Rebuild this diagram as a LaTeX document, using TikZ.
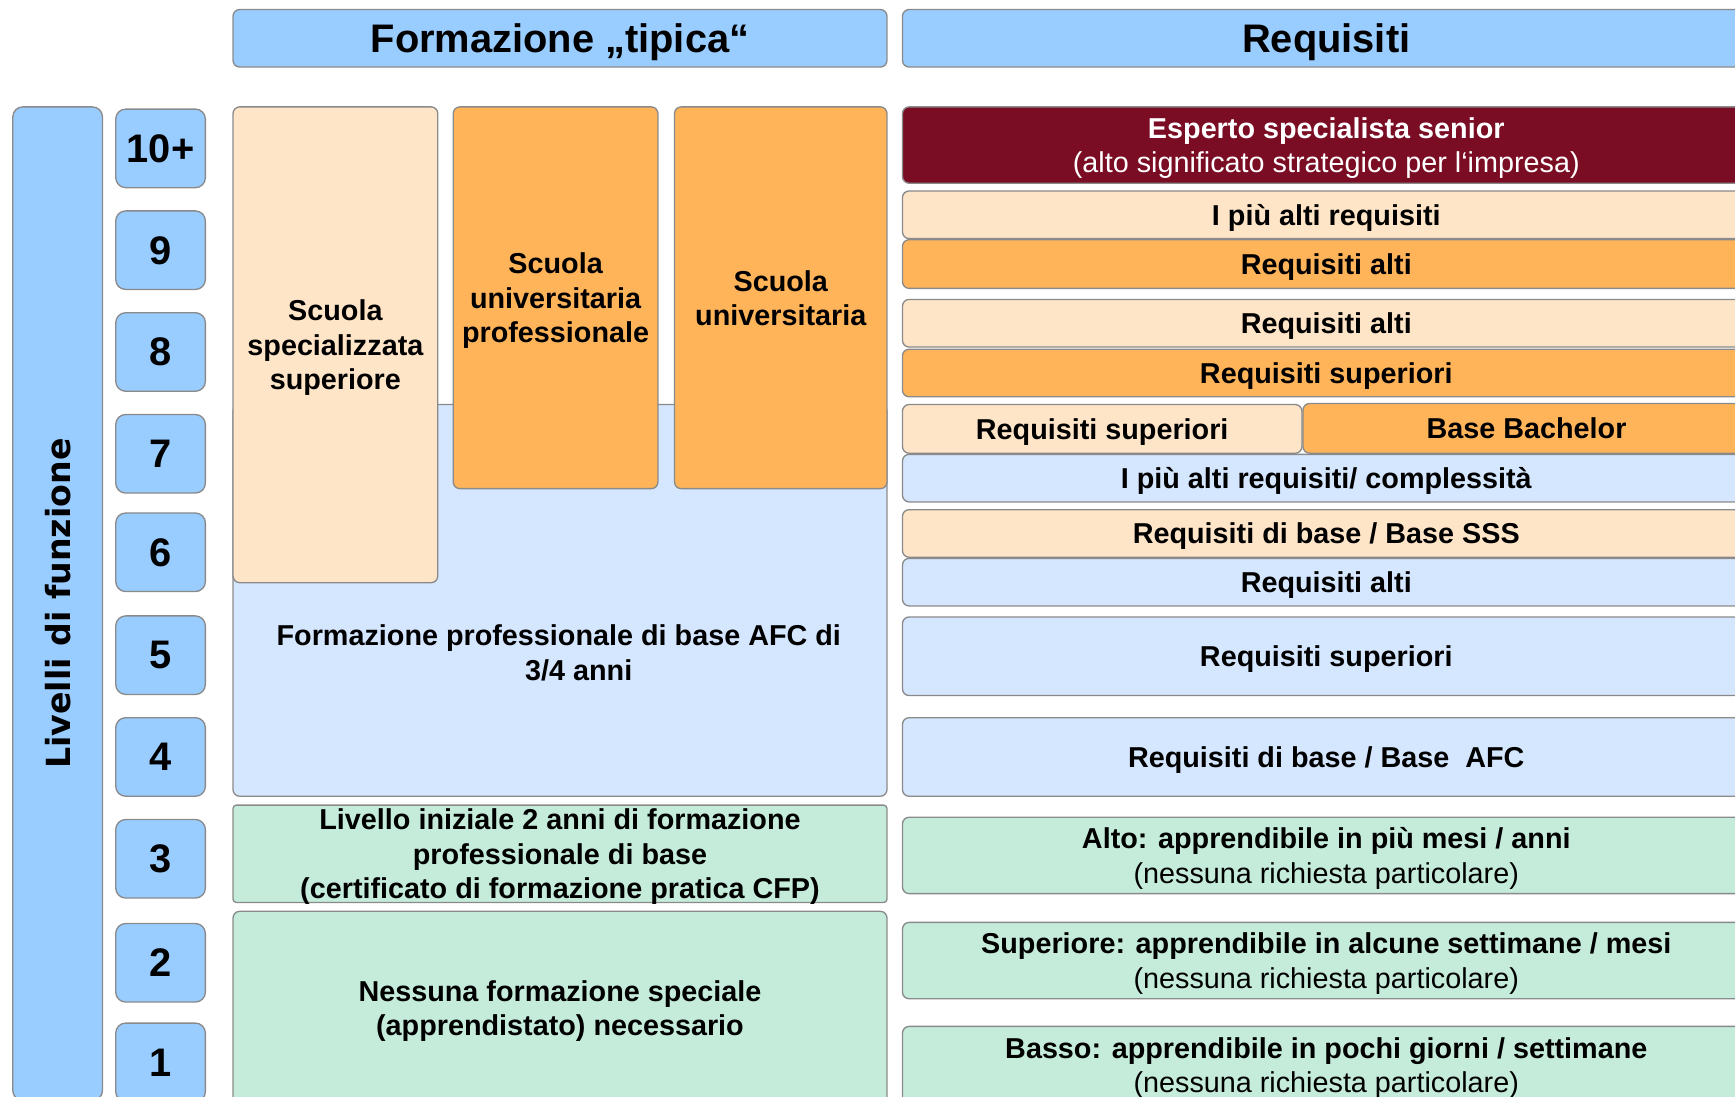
\documentclass[tikz,border=0pt]{standalone}
\usepackage{fontspec}
\setmainfont{Liberation Sans}
\newfontfamily\dejavu{DejaVu Sans}
\definecolor{blu}{HTML}{99CCFF}
\definecolor{pesca}{HTML}{FFE5C8}
\definecolor{arancio}{HTML}{FFB45A}
\definecolor{celeste}{HTML}{D5E6FF}
\definecolor{menta}{HTML}{C5ECDB}
\definecolor{bordeaux}{HTML}{7A0C24}
\definecolor{bordo}{HTML}{8A8A8A}
\begin{document}
\begin{tikzpicture}[x=1pt,y=-1pt,
  box/.style={draw=bordo,line width=1.2pt,rounded corners=6pt,fill=#1,anchor=north west,
    inner sep=0pt,align=center,text depth=0pt,font=\fontsize{26}{31}\selectfont\bfseries},
  head/.style={box=blu,minimum height=52pt,font=\fontsize{36}{40}\selectfont\bfseries},
  num/.style={box=blu,rounded corners=9pt,minimum width=81pt,minimum height=71pt,
    font=\fontsize{36}{40}\selectfont\bfseries},
  req/.style={box=#1,minimum width=766pt}]
\useasboundingbox (0,0) rectangle (1568,991);
\clip (0,0) rectangle (1568,991);
% intestazioni
\node[head,minimum width=591pt] (formazione) at (210,8) {Formazione „tipica“};
\node[head,minimum width=766pt] (requisiti) at (815,8) {Requisiti};
% livelli
\node[box=blu,rounded corners=9pt,minimum width=81pt,minimum height=898pt] (livelli) at (11,96) {};
\node[rotate=90,font=\dejavu\fontsize{30}{36}\selectfont\bfseries] (livtxt) at (livelli.center) {Livelli di funzione};
\foreach \t/\n [count=\i] in {98/10+,190/9,282/8,374/7,463/6,556/5,648/4,740/3,834/2,924/1}
  \node[num] (n\i) at (104,\t) {\n};
% formazione
\node[box=celeste,minimum width=591pt,minimum height=354pt] (afc) at (210,365) {};
\node[align=center,font=\fontsize{26}{31}\selectfont\bfseries] (afctxt) at (505,590)
  {Formazione professionale di base AFC di\\\hspace*{36pt}3/4 anni};
\node[box=pesca,minimum width=185pt,minimum height=430pt] (sss) at (210,96) {Scuola\\specializzata\\superiore};
\node[box=arancio,minimum width=185pt,minimum height=345pt] (sup) at (409,96) {Scuola\\universitaria\\professionale};
\node[box=arancio,minimum width=192pt,minimum height=345pt] (uni) at (609,96) {Scuola\\universitaria};
\node[box=menta,rounded corners=3pt,minimum width=591pt,minimum height=88pt] (cfp) at (210,727)
  {Livello iniziale 2 anni di formazione\\professionale di base\\(certificato di formazione pratica CFP)};
\node[box=menta,minimum width=591pt,minimum height=175pt] (nessuna) at (210,823)
  {Nessuna formazione speciale\\(apprendistato) necessario};
% requisiti
\node[req=bordeaux,minimum height=69pt,text=white] (r10) at (815,96)
  {Esperto specialista senior\\\mdseries(alto significato strategico per l‘impresa)};
\node[req=pesca,minimum height=43pt] (r9a) at (815,172) {I più alti requisiti};
\node[req=arancio,minimum height=44pt] (r9b) at (815,216) {Requisiti alti};
\node[req=pesca,minimum height=43pt] (r8a) at (815,270) {Requisiti alti};
\node[req=arancio,minimum height=43pt] (r8b) at (815,315) {Requisiti superiori};
\node[box=pesca,minimum width=361pt,minimum height=44pt] (r7a) at (815,365) {Requisiti superiori};
\node[box=arancio,minimum width=404pt,minimum height=45pt] (r7b) at (1177,364) {Base Bachelor};
\node[req=celeste,minimum height=43pt] (r7c) at (815,410) {I più alti requisiti/ complessità};
\node[req=pesca,minimum height=43pt] (r6a) at (815,460) {Requisiti di base / Base SSS};
\node[req=celeste,minimum height=43pt] (r6b) at (815,504) {Requisiti alti};
\node[req=celeste,minimum height=71pt] (r5) at (815,557) {Requisiti superiori};
\node[req=celeste,minimum height=71pt] (r4) at (815,648) {Requisiti di base / Base\ \ AFC};
\node[req=menta,minimum height=69pt] (r3) at (815,738)
  {Alto: apprendibile in più mesi / anni\\\mdseries(nessuna richiesta particolare)};
\node[req=menta,minimum height=69pt] (r2) at (815,833)
  {Superiore: apprendibile in alcune settimane / mesi\\\mdseries(nessuna richiesta particolare)};
\node[req=menta,minimum height=70pt] (r1) at (815,927)
  {Basso: apprendibile in pochi giorni / settimane\\\mdseries(nessuna richiesta particolare)};
\end{tikzpicture}
\end{document}
